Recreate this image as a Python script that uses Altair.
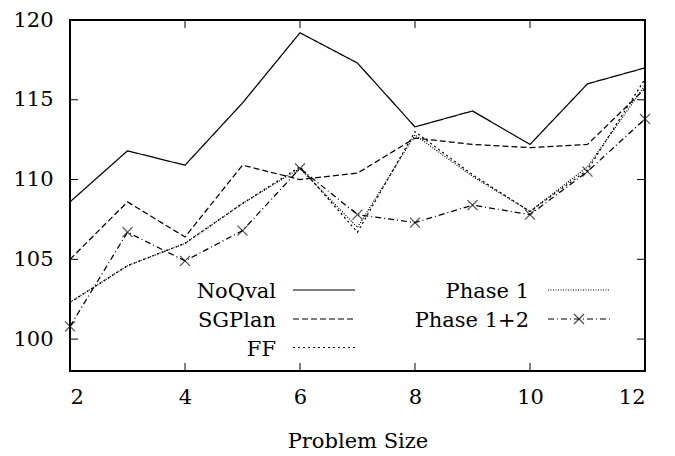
import altair as alt
import pandas as pd

# ---- data ----
sizes = [2, 3, 4, 5, 6, 7, 8, 9, 10, 11, 12]
noqval = [108.6, 111.8, 110.9, 114.8, 119.2, 117.3, 113.3, 114.3, 112.2, 116.0, 117.0]
sgplan = [105.0, 108.6, 106.4, 110.9, 110.0, 110.4, 112.6, 112.2, 112.0, 112.2, 115.7]
ff = [102.3, 104.6, 106.0, 108.5, 110.8, 106.7, 113.0, 110.3, 108.0, 110.6, 116.3]
phase1 = [102.3, 104.6, 106.0, 108.5, 110.7, 107.0, 112.8, 110.2, 108.0, 110.8, 115.9]
phase12 = [100.8, 106.7, 104.9, 106.8, 110.7, 107.8, 107.3, 108.4, 107.8, 110.5, 113.8]

series_names = ["NoQval", "SGPlan", "FF", "Phase 1", "Phase 1+2"]
x_ticks = [2, 4, 6, 8, 10, 12]
y_ticks = [100, 105, 110, 115, 120]

# ---- styling / layout ----
FONT = "DejaVu Serif"
FS = 21
W, H = 575, 351
dashes = [[1, 0], [6, 3], [2, 3], [1, 1.5], [6, 3, 1, 3]]
CROSS = "M-1,-1L1,1M-1,1L1,-1"

rows = []
for name, vals in zip(series_names, [noqval, sgplan, ff, phase1, phase12]):
    for s, v in zip(sizes, vals):
        rows.append({"size": s, "value": v, "series": name})
df = pd.DataFrame(rows)

xs = alt.Scale(domain=[2, 12], nice=False, zero=False)
ys = alt.Scale(domain=[98, 120], nice=False, zero=False)

lines = alt.Chart(df).mark_line(color="black", strokeWidth=1.25).encode(
    x=alt.X("size:Q", scale=xs, title="Problem Size",
            axis=alt.Axis(values=x_ticks, ticks=False, domain=False, grid=False,
                          labelPadding=15, titlePadding=23, format="d")),
    y=alt.Y("value:Q", scale=ys, title=None,
            axis=alt.Axis(values=y_ticks, ticks=False, domain=False, grid=False,
                          labelPadding=17, format="d")),
    strokeDash=alt.StrokeDash("series:N", scale=alt.Scale(domain=series_names, range=dashes),
                              legend=None),
    detail="series:N",
)

markers = alt.Chart(df[df["series"] == "Phase 1+2"]).mark_point(
    shape=CROSS, size=100, color="black", strokeWidth=1.2, filled=False
).encode(
    x=alt.X("size:Q", scale=xs, title="Problem Size"),
    y=alt.Y("value:Q", scale=ys, title=None),
)

ytick_df = pd.DataFrame({"value": y_ticks})
xtick_df = pd.DataFrame({"size": x_ticks})
tick_style = dict(color="black", strokeWidth=1)
left_ticks = alt.Chart(ytick_df).mark_rule(**tick_style).encode(
    y=alt.Y("value:Q", scale=ys, title=None), x=alt.value(0), x2=alt.value(8))
right_ticks = alt.Chart(ytick_df).mark_rule(**tick_style).encode(
    y=alt.Y("value:Q", scale=ys, title=None), x=alt.value(W - 8), x2=alt.value(W))
bottom_ticks = alt.Chart(xtick_df).mark_rule(**tick_style).encode(
    x=alt.X("size:Q", scale=xs, title="Problem Size"), y=alt.value(H - 8), y2=alt.value(H))
top_ticks = alt.Chart(xtick_df).mark_rule(**tick_style).encode(
    x=alt.X("size:Q", scale=xs, title="Problem Size"), y=alt.value(0), y2=alt.value(8))

# ---- manual legend (gnuplot style: label left of the sample) ----
leg_layers = []
col_text_x = [206, 459]
col_line_x = [(223, 285), (478, 540)]
row_y = [270, 299, 327.5]
placement = [(0, 0), (0, 1), (0, 2), (1, 0), (1, 1)]
for name, dash, (c, r) in zip(series_names, dashes, placement):
    ly = row_y[r]
    leg_layers.append(
        alt.Chart(pd.DataFrame({"a": [0]})).mark_text(
            align="right", baseline="alphabetic", font=FONT, fontSize=FS, color="black"
        ).encode(x=alt.value(col_text_x[c]), y=alt.value(ly + 8), text=alt.value(name))
    )
    leg_layers.append(
        alt.Chart(pd.DataFrame({"a": [0]})).mark_rule(
            color="black", strokeWidth=1.2, strokeDash=dash
        ).encode(x=alt.value(col_line_x[c][0]), x2=alt.value(col_line_x[c][1]), y=alt.value(ly))
    )
    if name == "Phase 1+2":
        leg_layers.append(
            alt.Chart(pd.DataFrame({"a": [0]})).mark_point(
                shape=CROSS, size=100, color="black", strokeWidth=1.2, filled=False
            ).encode(x=alt.value((col_line_x[c][0] + col_line_x[c][1]) / 2), y=alt.value(ly))
        )

chart = alt.layer(
    lines, markers, left_ticks, right_ticks, bottom_ticks, top_ticks, *leg_layers
).properties(
    width=W, height=H,
    background="white",
    autosize=alt.AutoSizeParams(type="none"),
    padding={"left": 62, "top": 12, "right": 20, "bottom": 85},
).configure_view(
    stroke="black", strokeWidth=2
).configure_axis(
    labelFont=FONT, labelFontSize=FS, labelColor="black",
    titleFont=FONT, titleFontSize=FS, titleColor="black", titleFontWeight="normal",
)

chart.save("out.html", embed_options={"renderer": "svg", "actions": False})
